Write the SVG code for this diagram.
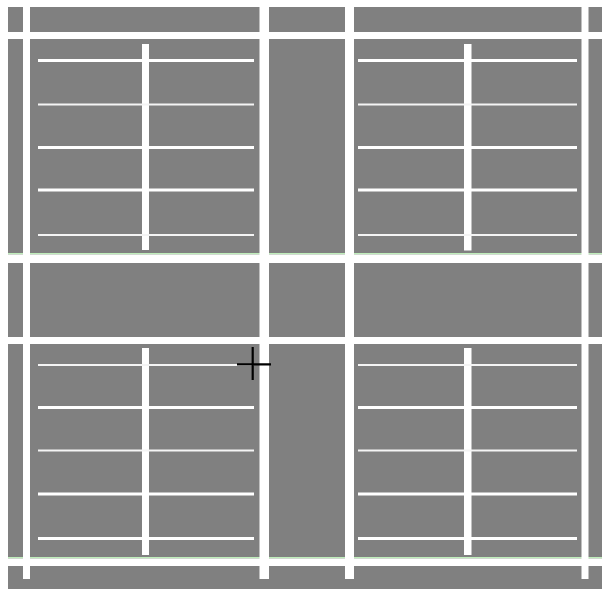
<svg xmlns="http://www.w3.org/2000/svg" width="602" height="589" viewBox="0 0 602 589">
  <style>
    .w { fill: #ffffff; }
    .g { fill: #bfeebb; }
    .thick { stroke: #ffffff; stroke-width: 3; }
    .thin { stroke: #f4f4f4; stroke-width: 2; }
    .post { fill: #ffffff; }
    .cursor { stroke: #000000; stroke-width: 2.2; fill: none; }
  </style>
  <rect x="0" y="0" width="602" height="589" fill="#ffffff"/>
  <rect id="ground" x="8" y="7" width="594" height="582" fill="#808080"/>

  <g id="main-grid">
    <!-- horizontal bands -->
    <rect class="w" x="8" y="32" width="594" height="7"/>
    <rect class="g" x="8" y="253" width="594" height="1.5"/>
    <rect class="w" x="8" y="254.5" width="594" height="8.5"/>
    <rect class="w" x="8" y="337" width="594" height="7"/>
    <rect class="g" x="8" y="557" width="594" height="1.5"/>
    <rect class="w" x="8" y="558.5" width="594" height="7.5"/>
    <!-- vertical bands -->
    <rect class="w" x="23" y="0" width="7" height="579"/>
    <rect class="w" x="259.5" y="0" width="9.5" height="579"/>
    <rect class="w" x="345" y="0" width="9" height="579"/>
    <rect class="w" x="581.5" y="0" width="7" height="579"/>
  </g>

  <g id="quad-top-left">
    <rect class="post" x="142" y="44" width="7" height="206"/>
    <line class="thick" x1="38" y1="60.5" x2="254" y2="60.5"/>
    <line class="thin" x1="38" y1="104.5" x2="254" y2="104.5"/>
    <line class="thick" x1="38" y1="147.5" x2="254" y2="147.5"/>
    <line class="thick" x1="38" y1="190" x2="254" y2="190"/>
    <line class="thin" x1="38" y1="235" x2="254" y2="235"/>
  </g>

  <g id="quad-top-right">
    <rect class="post" x="464" y="44" width="7.5" height="206.5"/>
    <line class="thick" x1="358" y1="60.5" x2="577" y2="60.5"/>
    <line class="thin" x1="358" y1="104.5" x2="577" y2="104.5"/>
    <line class="thick" x1="358" y1="147.5" x2="577" y2="147.5"/>
    <line class="thick" x1="358" y1="190" x2="577" y2="190"/>
    <line class="thin" x1="358" y1="235" x2="577" y2="235"/>
  </g>

  <g id="quad-bottom-left">
    <rect class="post" x="142" y="348" width="7" height="207"/>
    <line class="thin" x1="38" y1="365" x2="254" y2="365"/>
    <line class="thick" x1="38" y1="407.5" x2="254" y2="407.5"/>
    <line class="thin" x1="38" y1="450.5" x2="254" y2="450.5"/>
    <line class="thick" x1="38" y1="494" x2="254" y2="494"/>
    <line class="thick" x1="38" y1="538.5" x2="254" y2="538.5"/>
  </g>

  <g id="quad-bottom-right">
    <rect class="post" x="464" y="348" width="7.5" height="207"/>
    <line class="thin" x1="358" y1="365" x2="577" y2="365"/>
    <line class="thick" x1="358" y1="407.5" x2="577" y2="407.5"/>
    <line class="thin" x1="358" y1="450.5" x2="577" y2="450.5"/>
    <line class="thick" x1="358" y1="494" x2="577" y2="494"/>
    <line class="thick" x1="358" y1="538.5" x2="577" y2="538.5"/>
  </g>

  <g id="cursor">
    <line class="cursor" x1="252.7" y1="347" x2="252.7" y2="380"/>
    <line class="cursor" x1="237" y1="364.3" x2="271" y2="364.3"/>
  </g>
</svg>
